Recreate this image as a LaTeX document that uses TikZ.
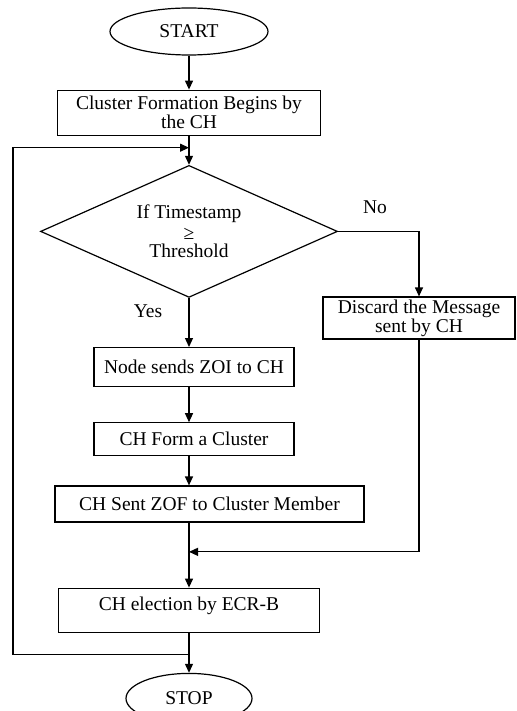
\documentclass[tikz,border=0pt]{standalone}
\usepackage{fontspec}
\setmainfont{Liberation Serif}
\usepackage{tikz}
\usetikzlibrary{arrows.meta,positioning,shapes.geometric,calc}

\begin{document}
\begin{tikzpicture}[x=1pt,y=-1pt,font=\fontsize{19.5}{17.5}\selectfont,>={Triangle[length=9pt,width=8pt]},line width=1.2pt,
  terminal/.style={draw,ellipse,minimum width=158pt,minimum height=47pt,inner sep=0pt},
  process/.style={draw,rectangle,align=center,inner sep=0pt},
  decision/.style={draw,diamond,aspect=2.25,align=center,inner sep=0pt,minimum width=297pt,minimum height=132pt}]
  \useasboundingbox (0,0) rectangle (516,711);
  \node[terminal] (start) at (189,31.5) {START};
  \node[process,minimum width=263pt,minimum height=45pt,below=34pt of start] (formation)
    {Cluster Formation Begins by\\the CH};
  \node[decision,below=29pt of formation] (timestamp) {If Timestamp\\[3pt]≥\\[1pt]Threshold};
  \node[process,minimum width=200pt,minimum height=39pt,below=49pt of timestamp,xshift=5pt] (sendzoi)
    {Node sends ZOI to CH};
  \node[process,minimum width=200pt,minimum height=33pt,below=35pt of sendzoi] (formcluster)
    {CH Form a Cluster};
  \node[process,minimum width=309pt,minimum height=36pt,below=29pt of formcluster,xshift=15.5pt] (sendzof)
    {CH Sent ZOF to Cluster Member};
  \node[process,minimum width=261pt,minimum height=0pt,text height=22.5pt,text depth=21.5pt,below=65pt of sendzof,xshift=-20.5pt] (election)
    {CH election by ECR-B};
  \node[terminal,minimum width=126pt,minimum height=50pt,below=40pt of election] (stop) {STOP};
  \node[process,minimum width=192pt,minimum height=42pt] (discard) at (419,318)
    {Discard the Message\\sent by CH};
  \node (no) at (375,207) {No};
  \node (yes) at (148,311) {Yes};
  % junctions
  \coordinate (loopin) at ($(formation.south)!0.41!(timestamp.north)$);
  \coordinate (loopout) at ($(election.south)!0.55!(stop.north)$);
  \coordinate (merge) at ($(sendzof.south -| election.north)!0.45!(election.north)$);
  \draw[->] (start) -- (formation);
  \draw[->] (formation) -- (timestamp);
  \draw[->] (timestamp) -- (timestamp |- sendzoi.north);
  \draw[->] (sendzoi.south -| timestamp) -- (timestamp |- formcluster.north);
  \draw[->] (formcluster.south -| timestamp) -- (timestamp |- sendzof.north);
  \draw[->] (sendzof.south -| election) -- (election);
  \draw[->] (timestamp.east) -| (discard.north);
  \draw[->] (discard.south) |- (merge);
  \draw[->] (election) -- (stop);
  \draw[->] (loopout) -- ++(-176pt,0) |- (loopin);
\end{tikzpicture}
\end{document}
